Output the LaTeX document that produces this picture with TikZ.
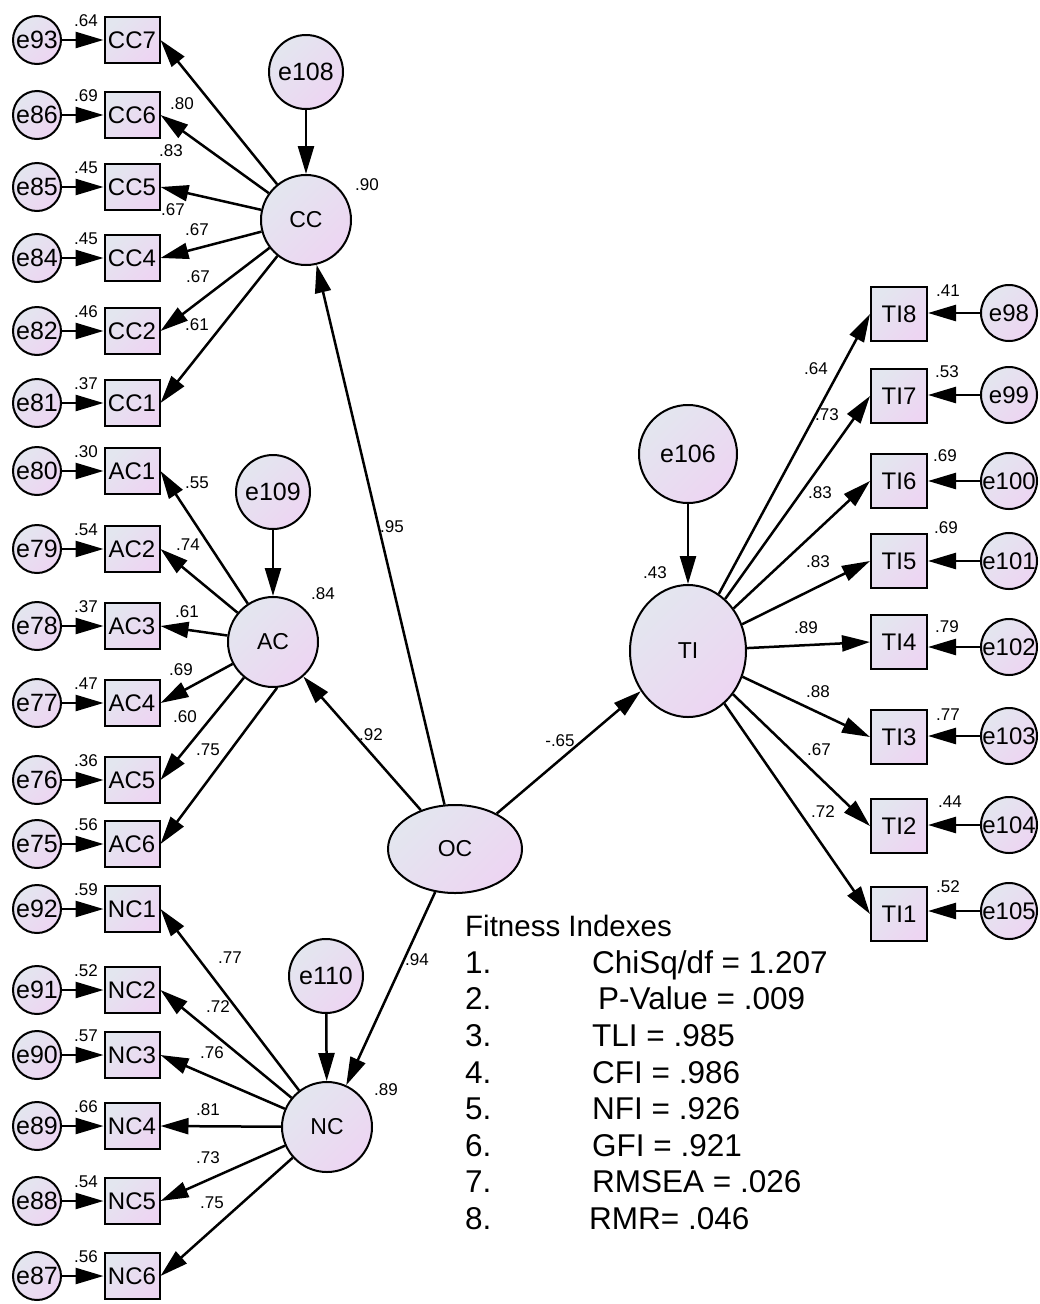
\documentclass[tikz,border=0pt]{standalone}
\usepackage{fontspec}
\setmainfont{Liberation Sans}
\usetikzlibrary{arrows.meta,shapes.geometric}
\definecolor{shadeA}{HTML}{E3E6EF}
\definecolor{shadeB}{HTML}{EDD5F2}

\begin{document}
\begin{tikzpicture}[x=1pt,y=-1pt,
  latent/.style={circle,draw,line width=2pt,top color=shadeA,bottom color=shadeB,
    shading angle=45,inner sep=0pt,font=\fontsize{23}{23}\selectfont},
  errvar/.style={latent,minimum size=48pt,font=\fontsize{25}{25}\selectfont},
  manifest/.style={rectangle,draw,line width=2pt,top color=shadeA,bottom color=shadeB,
    shading angle=45,inner sep=0pt,minimum width=55pt,minimum height=46pt,
    font=\fontsize{24}{24}\selectfont},
  reg/.style={line width=2.5pt,-{Triangle[length=28pt,width=16pt]}},
  coef/.style={inner sep=0pt,font=\fontsize{17}{17}\selectfont},
  fitline/.style={anchor=base west,inner sep=0pt,font=\fontsize{31.5}{31.5}\selectfont}]
  \useasboundingbox (0,0) rectangle (1039,1304);
  \fill[white] (0,0) rectangle (1039,1304);

  % latent variables
  \node[latent,minimum size=90pt] (CC) at (306,220) {CC};
  \node[latent,minimum size=74pt,font=\fontsize{25}{25}\selectfont] (e108) at (306,72) {e108};
  \node[latent,minimum size=90pt] (AC) at (273,642) {AC};
  \node[latent,minimum size=74pt,font=\fontsize{25}{25}\selectfont] (e109) at (273,492) {e109};
  \node[latent,minimum size=90pt] (NC) at (327,1127) {NC};
  \node[latent,minimum size=74pt,font=\fontsize{25}{25}\selectfont] (e110) at (326,976) {e110};
  \node[latent,ellipse,minimum width=134pt,minimum height=88pt] (OC) at (455,849) {OC};
  \node[latent,ellipse,minimum width=116pt,minimum height=132pt] (TI) at (688,651) {TI};
  \node[latent,minimum size=98pt,font=\fontsize{25}{25}\selectfont] (e106) at (688,454) {e106};

  \node[coef] at (367,185) {.90};
  \node[coef] at (323,594) {.84};
  \node[coef] at (386,1090) {.89};
  \node[coef] at (655,573) {.43};

  % structural paths
  \draw[reg] (e108) -- (CC);
  \draw[reg] (e109) -- (AC);
  \draw[reg] (e110) -- (NC);
  \draw[reg] (e106) -- (TI);
  \draw[reg] (OC) -- (CC);
  \draw[reg] (OC) -- (AC);
  \draw[reg] (OC) -- (NC);
  \draw[reg] (OC) -- (TI);
  \node[coef] at (392,527) {.95};
  \node[coef] at (371,735) {.92};
  \node[coef] at (417,960) {.94};
  \node[coef] at (560,741) {-.65};

  % left indicators
  \foreach \lat/\ind/\err/\y/\r/\lx/\ly/\l in {
    CC/CC7/e93/40/.64/182/104/.80, CC/CC6/e86/115/.69/171/151/.83,
    CC/CC5/e85/187/.45/173/210/.67, CC/CC4/e84/258/.45/197/230/.67,
    CC/CC2/e82/331/.46/198/277/.67, CC/CC1/e81/403/.37/197/325/.61,
    AC/AC1/e80/471/.30/197/483/.55, AC/AC2/e79/549/.54/188/545/.74,
    AC/AC3/e78/626/.37/187/612/.61, AC/AC4/e77/703/.47/181/670/.69,
    AC/AC5/e76/780/.36/185/717/.60, AC.-85/AC6/e75/844/.56/208/750/.75,
    NC/NC1/e92/909/.59/230/958/.77, NC/NC2/e91/990/.52/218/1007/.72,
    NC/NC3/e90/1055/.57/212/1053/.76, NC/NC4/e89/1126/.66/208/1110/.81,
    NC/NC5/e88/1201/.54/208/1158/.73, NC/NC6/e87/1276/.56/212/1203/.75} {
    \node[manifest] (\ind) at (132,\y) {\ind};
    \node[errvar] (\err) at (37,\y) {\err};
    \node[coef] at (86,\y-19) {\r};
    \draw[reg] (\err) -- (\ind);
    \draw[reg] (\lat) -- (\ind.east);
    \node[coef] at (\lx,\ly) {\l};
  }

  % right indicators
  \foreach \ind/\err/\y/\ey/\rx/\ry/\r/\lx/\ly/\l in {
    TI8/e98/314/313/948/291/.41/816/369/.64, TI7/e99/396/395/947/372/.53/827/415/.73,
    TI6/e100/481/481/945/456/.69/820/493/.83, TI5/e101/561/561/946/528/.69/818/562/.83,
    TI4/e102/642/647/947/627/.79/806/628/.89, TI3/e103/737/736/948/715/.77/818/692/.88,
    TI2/e104/826/825/950/802/.44/819/750/.67, TI1/e105/914/911/948/887/.52/823/812/.72} {
    \node[manifest,minimum width=56pt,minimum height=54pt] (\ind) at (899,\y) {\ind};
    \node[errvar,minimum size=56pt,font=\fontsize{24}{24}\selectfont] (\err) at (1009,\ey) {\err};
    \node[coef] at (\rx,\ry) {\r};
    \draw[reg] (\err) -- (\ind.east |- \err);
    \draw[reg] (TI) -- (\ind.west);
    \node[coef] at (\lx,\ly) {\l};
  }

  % fit indexes
  \node[fitline,font=\fontsize{29.5}{29.5}\selectfont] (fithead) at (465,936) {Fitness Indexes};
  \foreach \k/\v/\x in {1/{ChiSq/df = 1.207}/592, 2/{P-Value = .009}/598,
    3/{TLI = .985}/592, 4/{CFI = .986}/592, 5/{NFI = .926}/592,
    6/{GFI = .921}/592, 7/{RMSEA = .026}/592, 8/{RMR= .046}/589} {
    \node[fitline] (num\k) at (465,936.6+36.6*\k) {\k.};
    \node[fitline] (val\k) at (\x,936.6+36.6*\k) {\v};
  }
\end{tikzpicture}
\end{document}
